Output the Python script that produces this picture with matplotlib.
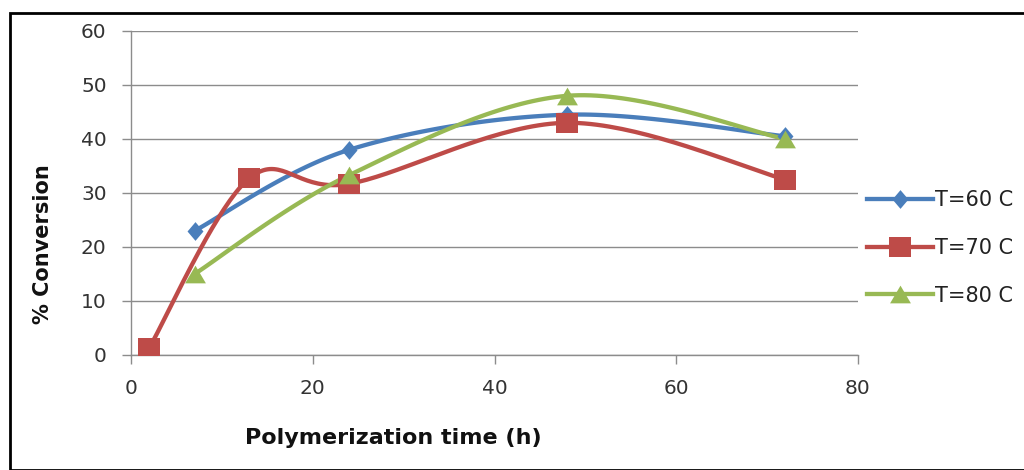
import numpy as np
import matplotlib
matplotlib.use("Agg")
import matplotlib.pyplot as plt
from matplotlib.patches import Rectangle
from matplotlib.path import Path

# Data
t60 = [7, 24, 48, 72]
c60 = [23, 38, 44.5, 40.5]
t70 = [2, 13, 24, 48, 72]
c70 = [1.3, 32.7, 31.7, 43, 32.5]
t80 = [7, 24, 48, 72]
c80 = [15, 33.3, 48, 40]
labels = ["T=60 C", "T=70 C", "T=80 C"]
colors = ["#4a7ebb", "#be4b48", "#98b954"]

# Marker shapes (slightly stretched like the reference)
diamond = Path([(0, 1), (0.85, 0), (0, -1), (-0.85, 0), (0, 1)],
               [Path.MOVETO, Path.LINETO, Path.LINETO, Path.LINETO, Path.CLOSEPOLY])
square = Path([(-1, -0.86), (1, -0.86), (1, 0.86), (-1, 0.86), (-1, -0.86)],
              [Path.MOVETO, Path.LINETO, Path.LINETO, Path.LINETO, Path.CLOSEPOLY])
triangle = Path([(0, 0.85), (1, -0.85), (-1, -0.85), (0, 0.85)],
                [Path.MOVETO, Path.LINETO, Path.LINETO, Path.CLOSEPOLY])
markers = [diamond, square, triangle]
msizes = [13.5, 16, 15]


def smooth(x, y, n=40):
    """Excel-like smoothed line (Catmull-Rom cubic Bezier)."""
    x = np.asarray(x, float)
    y = np.asarray(y, float)
    P = np.column_stack([x, y])
    out = [P[0]]
    for i in range(len(P) - 1):
        p0 = P[i - 1] if i > 0 else P[i]
        p1 = P[i]
        p2 = P[i + 1]
        p3 = P[i + 2] if i + 2 < len(P) else P[i + 1]
        c1 = p1 + (p2 - p0) / 6.0
        c2 = p2 - (p3 - p1) / 6.0
        s = np.linspace(0, 1, n)[1:, None]
        seg = ((1 - s) ** 3) * p1 + 3 * ((1 - s) ** 2) * s * c1 + 3 * (1 - s) * s ** 2 * c2 + s ** 3 * p2
        out.extend(seg)
    out = np.array(out)
    return out[:, 0], out[:, 1]


fig = plt.figure(figsize=(10.24, 4.70), dpi=100)
ax = fig.add_axes([131 / 1024, 1 - 355 / 470, (858 - 131) / 1024, (355 - 31) / 470])

for (tx, cy, lab, col, mk, ms) in zip([t60, t70, t80], [c60, c70, c80], labels, colors, markers, msizes):
    sx, sy = smooth(tx, cy)
    ax.plot(sx, sy, color=col, lw=3.1, solid_capstyle="round", zorder=3)
    ax.plot(tx, cy, linestyle="none", marker=mk, color=col, ms=ms, mew=0, zorder=4)
    ax.plot([], [], color=col, lw=3.1, marker=mk, ms=ms, mew=0, label=lab)

ax.set_xlim(0, 80)
ax.set_ylim(0, 60)
ax.set_xticks(np.arange(0, 81, 20))
ax.set_yticks(np.arange(0, 61, 10))
ax.yaxis.grid(True, color="#8c8c8c", lw=1)
ax.set_axisbelow(True)
for s in ["top", "right"]:
    ax.spines[s].set_visible(False)
for s in ["left", "bottom"]:
    ax.spines[s].set_color("#8c8c8c")
    ax.spines[s].set_linewidth(1)
ax.tick_params(axis="both", colors="#8c8c8c", labelcolor="#333333", labelsize=14.5, length=6.5, width=1)
ax.tick_params(axis="y", pad=11)
ax.tick_params(axis="x", pad=11)

ax.set_xlabel("Polymerization time (h)", fontsize=16, fontweight="bold", color="#111111")
ax.set_ylabel("% Conversion", fontsize=15, fontweight="bold", color="#111111")
ax.xaxis.set_label_coords((393 - 131) / 727, (355 - 428) / 324)
ax.yaxis.set_label_coords((53 - 131) / 727, (355 - 244.5) / 324)

leg = ax.legend(loc="center left", bbox_to_anchor=(867 / 1024, 1 - 248 / 470),
                bbox_transform=fig.transFigure, frameon=False,
                fontsize=15, handlelength=3.15, handletextpad=0.1, labelspacing=1.32,
                borderaxespad=0, borderpad=0)
for t in leg.get_texts():
    t.set_color("#222222")

fig.patches.append(Rectangle((10 / 1024, 0), 1.2, 1 - 13 / 470, transform=fig.transFigure,
                             fill=False, edgecolor="black", lw=2))

fig.savefig("out.png", dpi=100)
